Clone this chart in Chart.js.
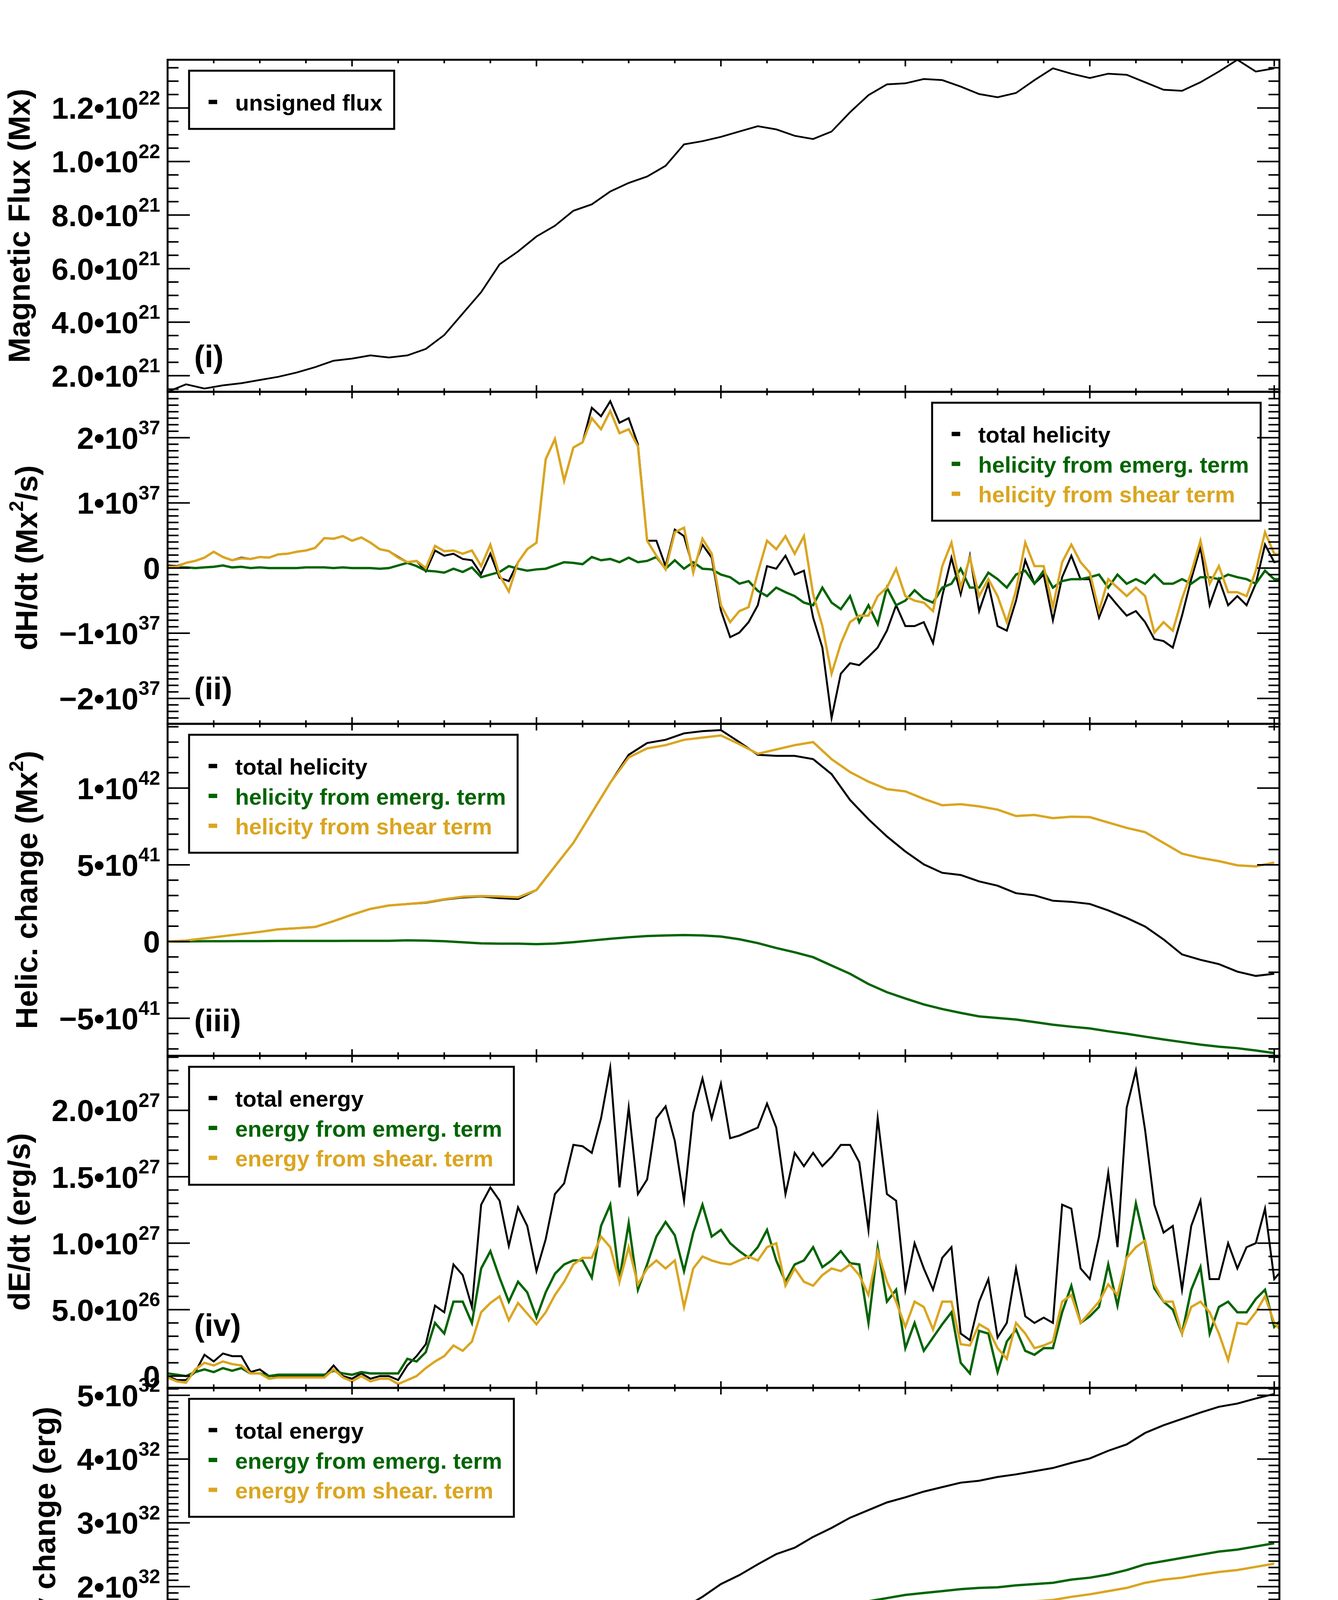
<!DOCTYPE html>
<html>
<head>
    <title>Magnetic flux, helicity and energy injection</title>
    <script src="https://cdn.jsdelivr.net/npm/chart.js"></script>
    <style>
        body { margin: 0; background: #ffffff; }
        #wrap { position: relative; width: 3425px; height: 4721px; background: #ffffff; }
        #wrap canvas { position: absolute; left: 0; }
    </style>
</head>
<body>
<div id="wrap">
    <canvas id="p1"></canvas>
    <canvas id="p2"></canvas>
    <canvas id="p3"></canvas>
    <canvas id="p4"></canvas>
    <canvas id="p5"></canvas>
</div>

<script>
// ---- time axis (days since 18-Oct-11 23:58:16) ----
const DAY_LABELS = ['19-Oct', '20-Oct', '21-Oct', '22-Oct', '23-Oct', '24-Oct', '25-Oct'];
const X_TITLE = 'Start Time (18-Oct-11 23:58:16)';
const T_COARSE = Array.from({length: 61}, (_, i) => i / 10);                 // 0.0 .. 6.0
const T_FINE = Array.from({length: 122}, (_, i) => Math.round(i * 5) / 100); // 0.00 .. 6.05

// ---- (i) unsigned flux, units of 1e21 Mx ----
const fluxUnsigned = [
    1.40, 1.68, 1.52, 1.64, 1.72, 1.84, 1.96, 2.12, 2.32, 2.56,
    2.64, 2.76, 2.68, 2.76, 3.00, 3.52, 4.32, 5.12, 6.16, 6.64,
    7.20, 7.60, 8.16, 8.40, 8.88, 9.20, 9.44, 9.84, 10.64, 10.76,
    10.92, 11.12, 11.32, 11.20, 10.96, 10.84, 11.12, 11.84, 12.48, 12.88,
    12.92, 13.08, 13.04, 12.80, 12.52, 12.40, 12.56, 13.04, 13.48, 13.28,
    13.12, 13.28, 13.24, 12.96, 12.68, 12.64, 12.96, 13.36, 13.80, 13.36,
    13.48
];
const fluxTicks = [2, 4, 6, 8, 10, 12];
const fluxTickLabels = ['2.0•10^{21}', '4.0•10^{21}', '6.0•10^{21}', '8.0•10^{21}', '1.0•10^{22}', '1.2•10^{22}'];

// ---- (ii) helicity injection rate, units of 1e37 Mx^2/s ----
const helTotalRate = [
    0.04, 0.03, 0.08, 0.11, 0.16, 0.25, 0.17, 0.12, 0.16, 0.14,
    0.17, 0.16, 0.21, 0.22, 0.25, 0.27, 0.31, 0.46, 0.45, 0.49,
    0.42, 0.47, 0.39, 0.29, 0.26, 0.17, 0.09, 0.11, -0.05, 0.27,
    0.19, 0.22, 0.14, 0.12, -0.09, 0.22, -0.15, -0.20, 0.09, 0.29,
    0.39, 1.67, 1.98, 1.34, 1.85, 1.93, 2.46, 2.33, 2.56, 2.23,
    2.30, 1.90, 0.42, 0.42, 0.03, 0.59, 0.49, -0.01, 0.36, 0.16,
    -0.65, -1.06, -0.99, -0.83, -0.57, 0.03, -0.01, 0.19, -0.10, -0.04,
    -0.76, -1.22, -2.30, -1.62, -1.46, -1.49, -1.36, -1.22, -0.96, -0.57,
    -0.89, -0.89, -0.83, -1.15, -0.43, 0.16, -0.40, 0.19, -0.66, -0.24,
    -0.89, -0.96, -0.50, 0.12, -0.24, -0.10, -0.80, -0.14, 0.19, -0.17,
    -0.17, -0.76, -0.40, -0.57, -0.73, -0.66, -0.83, -1.09, -1.12, -1.22,
    -0.73, -0.17, 0.32, -0.57, -0.17, -0.57, -0.43, -0.57, -0.24, 0.36,
    0.09, 0.12
];
const helEmergRate = [
    0.01, 0.01, 0.01, 0.00, 0.01, 0.02, 0.04, 0.01, 0.02, 0.00,
    0.01, 0.00, 0.00, 0.00, 0.00, 0.01, 0.01, 0.01, 0.00, 0.01,
    0.00, 0.00, 0.00, -0.01, 0.00, 0.04, 0.08, 0.03, -0.04, -0.05,
    -0.07, -0.01, -0.06, 0.01, -0.14, -0.10, -0.06, 0.03, -0.01, -0.04,
    -0.02, -0.01, 0.04, 0.09, 0.08, 0.06, 0.17, 0.12, 0.14, 0.09,
    0.16, 0.09, 0.11, 0.17, -0.01, 0.12, -0.01, 0.09, -0.01, -0.02,
    -0.10, -0.14, -0.24, -0.20, -0.35, -0.43, -0.30, -0.37, -0.43, -0.53,
    -0.57, -0.30, -0.53, -0.63, -0.43, -0.83, -0.57, -0.86, -0.30, -0.57,
    -0.50, -0.34, -0.47, -0.53, -0.30, -0.24, -0.01, -0.30, -0.30, -0.07,
    -0.17, -0.30, -0.10, -0.04, -0.24, -0.04, -0.30, -0.20, -0.17, -0.17,
    -0.14, -0.10, -0.30, -0.10, -0.24, -0.17, -0.24, -0.10, -0.24, -0.24,
    -0.17, -0.24, -0.14, -0.14, -0.17, -0.10, -0.14, -0.17, -0.24, -0.04,
    -0.17, -0.17
];
const helShearRate = [
    0.02, 0.02, 0.08, 0.11, 0.16, 0.25, 0.17, 0.12, 0.15, 0.14,
    0.17, 0.16, 0.21, 0.22, 0.25, 0.27, 0.31, 0.46, 0.45, 0.49,
    0.42, 0.47, 0.39, 0.29, 0.26, 0.16, 0.09, 0.11, 0.00, 0.34,
    0.26, 0.27, 0.22, 0.27, 0.03, 0.36, -0.11, -0.36, 0.09, 0.29,
    0.39, 1.67, 1.98, 1.34, 1.85, 1.93, 2.30, 2.13, 2.41, 2.07,
    2.13, 1.87, 0.42, 0.19, -0.02, 0.55, 0.62, -0.07, 0.45, 0.22,
    -0.57, -0.83, -0.66, -0.60, -0.07, 0.42, 0.29, 0.49, 0.22, 0.49,
    -0.40, -0.89, -1.62, -1.16, -0.83, -0.73, -0.73, -0.43, -0.30, -0.01,
    -0.43, -0.50, -0.53, -0.66, 0.03, 0.39, -0.30, 0.16, -0.43, -0.17,
    -0.43, -0.83, -0.34, 0.39, 0.03, 0.03, -0.60, 0.09, 0.36, 0.09,
    -0.07, -0.66, -0.17, -0.30, -0.43, -0.30, -0.43, -0.99, -0.83, -0.96,
    -0.47, -0.07, 0.42, -0.24, 0.03, -0.37, -0.37, -0.43, -0.04, 0.55,
    0.22, 0.20
];
const helRateTicks = [-2, -1, 0, 1, 2];
const helRateTickLabels = ['\u22122•10^{37}', '\u22121•10^{37}', '0', '1•10^{37}', '2•10^{37}'];

// ---- (iii) accumulated helicity, units of 1e41 Mx^2 ----
const helTotal = [
    0.00, 0.07, 0.21, 0.35, 0.49, 0.63, 0.80, 0.87, 0.95, 1.33,
    1.75, 2.13, 2.35, 2.45, 2.52, 2.73, 2.87, 2.94, 2.83, 2.77,
    3.36, 4.90, 6.43, 8.39, 10.35, 12.17, 12.94, 13.15, 13.57, 13.71,
    13.78, 13.00, 12.17, 12.10, 12.10, 11.89, 10.91, 9.23, 7.97, 6.85,
    5.87, 5.03, 4.48, 4.34, 3.92, 3.64, 3.15, 3.01, 2.66, 2.59,
    2.45, 2.03, 1.54, 0.98, 0.14, -0.84, -1.19, -1.47, -1.96, -2.24,
    -2.10
];
const helEmerg = [
    0.00, 0.01, 0.02, 0.02, 0.03, 0.03, 0.04, 0.04, 0.04, 0.04,
    0.05, 0.05, 0.05, 0.08, 0.06, 0.02, -0.05, -0.12, -0.14, -0.14,
    -0.17, -0.13, -0.04, 0.07, 0.18, 0.28, 0.36, 0.40, 0.42, 0.40,
    0.33, 0.15, -0.10, -0.42, -0.70, -1.02, -1.56, -2.10, -2.77, -3.30,
    -3.71, -4.10, -4.40, -4.65, -4.88, -4.98, -5.08, -5.25, -5.42, -5.55,
    -5.66, -5.85, -6.01, -6.20, -6.38, -6.55, -6.72, -6.85, -6.95, -7.10,
    -7.27
];
const helShear = [
    0.00, 0.07, 0.21, 0.35, 0.49, 0.63, 0.80, 0.87, 0.95, 1.33,
    1.75, 2.13, 2.35, 2.45, 2.55, 2.76, 2.92, 2.97, 2.94, 2.88,
    3.36, 4.90, 6.43, 8.39, 10.35, 12.00, 12.59, 12.80, 13.15, 13.29,
    13.43, 12.87, 12.24, 12.52, 12.80, 13.00, 11.89, 11.05, 10.42, 9.93,
    9.79, 9.30, 8.88, 8.95, 8.81, 8.60, 8.18, 8.25, 8.04, 8.14,
    8.11, 7.76, 7.41, 7.13, 6.43, 5.73, 5.45, 5.24, 4.97, 4.90,
    5.15
];
const helTicks = [-5, 0, 5, 10];
const helTickLabels = ['\u22125•10^{41}', '0', '5•10^{41}', '1•10^{42}'];

// ---- (iv) energy injection rate, units of 1e27 erg/s ----
const enTotalRate = [
    0.00, -0.03, -0.03, 0.03, 0.16, 0.11, 0.17, 0.15, 0.15, 0.03,
    0.05, 0.00, 0.00, 0.00, 0.00, 0.00, 0.00, 0.00, 0.08, 0.00,
    -0.02, 0.02, -0.02, 0.00, 0.00, -0.03, 0.08, 0.15, 0.24, 0.53,
    0.48, 0.84, 0.76, 0.52, 1.29, 1.42, 1.32, 0.98, 1.27, 1.13,
    0.79, 1.03, 1.37, 1.45, 1.74, 1.73, 1.68, 1.94, 2.32, 1.42,
    2.02, 1.37, 1.48, 1.94, 2.03, 1.77, 1.32, 1.98, 2.24, 1.94,
    2.20, 1.79, 1.81, 1.84, 1.87, 2.05, 1.87, 1.37, 1.68, 1.58,
    1.68, 1.58, 1.65, 1.74, 1.74, 1.61, 1.10, 1.94, 1.37, 1.32,
    0.65, 1.00, 0.81, 0.65, 0.89, 0.97, 0.32, 0.27, 0.56, 0.73,
    0.29, 0.40, 0.81, 0.45, 0.40, 0.44, 0.40, 1.29, 1.26, 0.81,
    0.73, 1.05, 1.53, 0.97, 2.02, 2.30, 1.85, 1.29, 1.08, 1.13,
    0.65, 1.13, 1.32, 0.73, 0.73, 1.00, 0.81, 0.97, 1.00, 1.26,
    0.73, 0.81
];
const enEmergRate = [
    0.02, 0.01, 0.00, 0.03, 0.05, 0.03, 0.06, 0.04, 0.06, 0.02,
    0.02, 0.00, 0.01, 0.01, 0.01, 0.01, 0.01, 0.01, 0.04, 0.02,
    0.01, 0.03, 0.02, 0.02, 0.02, 0.02, 0.13, 0.11, 0.18, 0.40,
    0.32, 0.56, 0.56, 0.40, 0.81, 0.94, 0.74, 0.56, 0.71, 0.63,
    0.44, 0.63, 0.77, 0.84, 0.87, 0.87, 0.74, 1.13, 1.29, 0.73,
    1.15, 0.65, 0.84, 1.05, 1.16, 1.06, 0.79, 1.08, 1.29, 1.05,
    1.10, 1.00, 0.94, 0.89, 0.97, 1.10, 0.87, 0.71, 0.84, 0.87,
    0.97, 0.82, 0.87, 0.94, 0.85, 0.84, 0.40, 0.97, 0.56, 0.65,
    0.21, 0.40, 0.19, 0.29, 0.39, 0.48, 0.10, 0.02, 0.34, 0.32,
    0.03, 0.26, 0.35, 0.19, 0.16, 0.21, 0.21, 0.48, 0.68, 0.40,
    0.45, 0.52, 0.84, 0.53, 0.90, 1.30, 1.00, 0.66, 0.56, 0.50,
    0.32, 0.65, 0.82, 0.32, 0.52, 0.56, 0.48, 0.48, 0.58, 0.65,
    0.37, 0.44
];
const enShearRate = [
    -0.01, -0.04, -0.05, 0.05, 0.10, 0.08, 0.11, 0.09, 0.08, 0.02,
    0.02, -0.02, -0.01, -0.01, -0.01, -0.01, -0.01, -0.01, 0.05, -0.01,
    -0.04, 0.00, -0.04, -0.02, -0.02, -0.06, -0.03, 0.00, 0.06, 0.11,
    0.15, 0.23, 0.19, 0.26, 0.48, 0.55, 0.60, 0.42, 0.55, 0.47,
    0.39, 0.48, 0.61, 0.71, 0.84, 0.89, 0.89, 1.05, 0.97, 0.71,
    0.97, 0.69, 0.81, 0.87, 0.81, 0.87, 0.52, 0.81, 0.90, 0.87,
    0.85, 0.84, 0.87, 0.90, 0.87, 0.97, 1.00, 0.68, 0.81, 0.71,
    0.68, 0.76, 0.81, 0.79, 0.84, 0.76, 0.61, 0.94, 0.71, 0.56,
    0.37, 0.56, 0.52, 0.35, 0.56, 0.56, 0.24, 0.23, 0.39, 0.35,
    0.21, 0.13, 0.40, 0.32, 0.21, 0.23, 0.26, 0.56, 0.61, 0.40,
    0.48, 0.56, 0.69, 0.61, 0.89, 0.97, 1.02, 0.69, 0.56, 0.56,
    0.32, 0.52, 0.56, 0.48, 0.32, 0.12, 0.40, 0.39, 0.48, 0.60,
    0.40, 0.32
];
const enRateTicks = [0, 0.5, 1.0, 1.5, 2.0];
const enRateTickLabels = ['0', '5.0•10^{26}', '1.0•10^{27}', '1.5•10^{27}', '2.0•10^{27}'];

// ---- (v) accumulated energy, units of 1e32 erg ----
const enTotal = [
    0.00, 0.005, 0.01, 0.02, 0.03, 0.03, 0.03, 0.03, 0.025, 0.025,
    0.03, 0.03, 0.03, 0.035, 0.05, 0.09, 0.14, 0.23, 0.36, 0.48,
    0.56, 0.67, 0.80, 0.95, 1.12, 1.27, 1.35, 1.54, 1.67, 1.84,
    2.04, 2.18, 2.35, 2.51, 2.61, 2.78, 2.92, 3.08, 3.20, 3.32,
    3.40, 3.49, 3.56, 3.63, 3.66, 3.72, 3.76, 3.81, 3.86, 3.94,
    4.01, 4.13, 4.23, 4.41, 4.53, 4.63, 4.73, 4.82, 4.87, 4.95,
    5.02
];
const enEmerg = [
    0.00, 0.01, 0.015, 0.02, 0.02, 0.025, 0.03, 0.03, 0.03, 0.03,
    0.03, 0.03, 0.03, 0.03, 0.04, 0.08, 0.13, 0.18, 0.26, 0.32,
    0.36, 0.43, 0.50, 0.56, 0.65, 0.72, 0.78, 0.88, 0.95, 1.05,
    1.17, 1.24, 1.32, 1.40, 1.47, 1.56, 1.64, 1.72, 1.77, 1.82,
    1.87, 1.90, 1.93, 1.96, 1.98, 1.99, 2.02, 2.04, 2.06, 2.11,
    2.14, 2.19, 2.26, 2.35, 2.40, 2.45, 2.50, 2.55, 2.58, 2.63,
    2.68
];
const enShear = [
    0.00, 0.005, 0.01, 0.01, 0.01, 0.01, 0.01, 0.01, 0.01, 0.01,
    0.01, 0.01, 0.01, 0.01, 0.01, 0.02, 0.03, 0.05, 0.11, 0.16,
    0.20, 0.25, 0.33, 0.41, 0.50, 0.56, 0.61, 0.68, 0.75, 0.82,
    0.90, 0.98, 1.07, 1.14, 1.20, 1.27, 1.34, 1.40, 1.47, 1.52,
    1.56, 1.61, 1.64, 1.67, 1.70, 1.72, 1.75, 1.77, 1.79, 1.84,
    1.88, 1.93, 1.98, 2.06, 2.11, 2.14, 2.19, 2.23, 2.26, 2.31,
    2.36
];
const enTicks = [0, 1, 2, 3, 4, 5];
const enTickLabels = ['0', '1•10^{32}', '2•10^{32}', '3•10^{32}', '4•10^{32}', '5•10^{32}'];

// ---- page geometry ----
const PAGE_W = 3425;
const PLOT_LEFT = 429;
const PLOT_RIGHT = 3275;
const PANEL_TOP = 153;
const PANEL_H = 850;
const X_MAX = 6.028;
const FONT = '"Liberation Sans", Arial, Helvetica, sans-serif';
const BLACK = '#000000';
const GREEN = '#006400';
const GOLD = '#DAA520';

function font(size) {
    return 'bold ' + size + 'px ' + FONT;
}

// split 'a^{b}c' into normal / superscript runs
function richParts(str) {
    const parts = [];
    const re = /\^\{([^}]*)\}/g;
    let last = 0, m;
    while ((m = re.exec(str))) {
        if (m.index > last) parts.push({t: str.slice(last, m.index), sup: false});
        parts.push({t: m[1], sup: true});
        last = re.lastIndex;
    }
    if (last < str.length) parts.push({t: str.slice(last), sup: false});
    return parts;
}

function drawRich(ctx, str, x, y, size, align) {
    const parts = richParts(str);
    let w = 0;
    parts.forEach(p => {
        ctx.font = font(p.sup ? Math.round(size * 0.64) : size);
        p.w = ctx.measureText(p.t).width;
        w += p.w;
    });
    let cx = align === 'right' ? x - w : (align === 'center' ? x - w / 2 : x);
    const left = cx;
    ctx.textAlign = 'left';
    ctx.textBaseline = 'alphabetic';
    parts.forEach(p => {
        ctx.font = font(p.sup ? Math.round(size * 0.64) : size);
        ctx.fillText(p.t, cx, p.sup ? y - size * 0.47 : y);
        cx += p.w;
    });
    return left;
}

// IDL-looking frame: inward ticks on all four sides, labels, legend box
const idlFrame = {
    id: 'idlFrame',
    afterDatasetsDraw(chart, args, o) {
        const {ctx, chartArea: a, scales: {x, y}} = chart;
        ctx.save();
        ctx.fillStyle = BLACK;
        ctx.strokeStyle = BLACK;
        ctx.lineCap = 'butt';

        // x ticks every 6 hours
        ctx.lineWidth = 4;
        ctx.beginPath();
        for (let i = 0; i <= (DAY_LABELS.length - 1) * 4; i++) {
            const px = x.getPixelForValue(i / 4);
            const len = i % 4 === 0 ? 17 : 9;
            ctx.moveTo(px, a.bottom); ctx.lineTo(px, a.bottom - len);
            ctx.moveTo(px, a.top); ctx.lineTo(px, a.top + len);
        }
        // y ticks
        const k0 = Math.ceil(y.min / o.yMinor - 1e-6);
        const k1 = Math.floor(y.max / o.yMinor + 1e-6);
        for (let k = k0; k <= k1; k++) {
            const v = k * o.yMinor;
            const r = v / o.yMajor;
            const len = Math.abs(r - Math.round(r)) < 1e-6 ? 57 : 28;
            const py = y.getPixelForValue(v);
            ctx.moveTo(a.left, py); ctx.lineTo(a.left + len, py);
            ctx.moveTo(a.right, py); ctx.lineTo(a.right - len, py);
        }
        ctx.stroke();

        // frame
        ctx.lineWidth = 5;
        ctx.strokeRect(a.left, a.top, a.right - a.left, a.bottom - a.top);

        // y tick labels
        let minLeft = a.left;
        o.yTicks.forEach((v, i) => {
            const py = y.getPixelForValue(v);
            const l = drawRich(ctx, o.yLabels[i], a.left - 19, py + 28, 78, 'right');
            minLeft = Math.min(minLeft, l);
        });

        // rotated axis title
        ctx.save();
        ctx.translate(minLeft - 56, (a.top + a.bottom) / 2);
        ctx.rotate(-Math.PI / 2);
        drawRich(ctx, o.yTitle, 0, 0, 78, 'center');
        ctx.restore();

        // panel tag
        ctx.font = font(80);
        ctx.textAlign = 'left';
        ctx.textBaseline = 'alphabetic';
        ctx.fillText(o.tag, a.left + 68, a.bottom - o.tagLift);

        // legend box
        const lg = o.legend;
        ctx.font = font(58);
        const tw = Math.max(...lg.items.map(it => ctx.measureText(it.text).width));
        const boxW = 50 + 22 + 46 + tw + 30;
        const boxL = lg.side === 'right' ? a.right - 48 - boxW : a.left + 55;
        const boxT = a.top + 28;
        const base0 = boxT + 102;
        const step = 76.5;
        const boxB = base0 + step * (lg.items.length - 1) + 47;
        lg.items.forEach((it, i) => {
            const b = base0 + i * step;
            ctx.fillStyle = it.color;
            ctx.fillRect(boxL + 50, b - 27.5, 22, 11);
            ctx.fillText(it.text, boxL + 118, b);
        });
        ctx.lineWidth = 5;
        ctx.strokeStyle = BLACK;
        ctx.strokeRect(boxL, boxT, boxW, boxB - boxT);

        // date labels and time title under the last panel
        if (o.xLabels) {
            ctx.fillStyle = BLACK;
            DAY_LABELS.forEach((lab, i) => {
                drawRich(ctx, lab, x.getPixelForValue(i), a.bottom + 103, 80, 'center');
            });
            drawRich(ctx, X_TITLE, (a.left + a.right) / 2, a.bottom + 190, 80, 'center');
        }
        ctx.restore();
    }
};

function series(label, t, v, color, width, order) {
    return {
        label: label,
        data: t.map((tt, j) => ({x: tt, y: v[j]})),
        borderColor: color,
        borderWidth: width,
        pointRadius: 0,
        tension: 0,
        fill: false,
        order: order
    };
}

function makePanel(id, index, cfg) {
    const canvas = document.getElementById(id);
    const last = index === 4;
    const padTop = 130;
    const padBottom = last ? 260 : 130;
    const h = PANEL_H + padTop + padBottom;
    canvas.width = PAGE_W;
    canvas.height = h;
    canvas.style.width = PAGE_W + 'px';
    canvas.style.height = h + 'px';
    canvas.style.top = (PANEL_TOP + index * PANEL_H - padTop) + 'px';

    new Chart(canvas, {
        type: 'line',
        data: {datasets: cfg.datasets},
        options: {
            responsive: false,
            animation: false,
            devicePixelRatio: 1,
            layout: {padding: {left: PLOT_LEFT, right: PAGE_W - PLOT_RIGHT, top: padTop, bottom: padBottom}},
            scales: {
                x: {type: 'linear', display: false, min: 0, max: X_MAX},
                y: {type: 'linear', display: false, min: cfg.yMin, max: cfg.yMax}
            },
            plugins: {
                legend: {display: false},
                tooltip: {enabled: false},
                idlFrame: {
                    yTicks: cfg.yTicks, yLabels: cfg.yLabels,
                    yMajor: cfg.yMajor, yMinor: cfg.yMinor,
                    yTitle: cfg.yTitle, tag: cfg.tag, tagLift: cfg.tagLift,
                    legend: cfg.legend, xLabels: last
                }
            }
        },
        plugins: [idlFrame]
    });
}

makePanel('p1', 0, {
    datasets: [series('unsigned flux', T_COARSE, fluxUnsigned, BLACK, 4.5, 1)],
    yMin: 1.4, yMax: 13.8, yMajor: 2, yMinor: 0.5,
    yTicks: fluxTicks, yLabels: fluxTickLabels,
    yTitle: 'Magnetic Flux (Mx)', tag: '(i)', tagLift: 63,
    legend: {side: 'left', items: [{text: 'unsigned flux', color: BLACK}]}
});

makePanel('p2', 1, {
    datasets: [
        series('total helicity', T_FINE, helTotalRate, BLACK, 5, 3),
        series('helicity from emerg. term', T_FINE, helEmergRate, GREEN, 6, 2),
        series('helicity from shear term', T_FINE, helShearRate, GOLD, 6, 1)
    ],
    yMin: -2.39, yMax: 2.705, yMajor: 1, yMinor: 0.1,
    yTicks: helRateTicks, yLabels: helRateTickLabels,
    yTitle: 'dH/dt (Mx^{2}/s)', tag: '(ii)', tagLift: 63,
    legend: {side: 'right', items: [
        {text: 'total helicity', color: BLACK},
        {text: 'helicity from emerg. term', color: GREEN},
        {text: 'helicity from shear term', color: GOLD}
    ]}
});

makePanel('p3', 2, {
    datasets: [
        series('total helicity', T_COARSE, helTotal, BLACK, 5, 3),
        series('helicity from emerg. term', T_COARSE, helEmerg, GREEN, 6, 2),
        series('helicity from shear term', T_COARSE, helShear, GOLD, 6, 1)
    ],
    yMin: -7.45, yMax: 14.19, yMajor: 5, yMinor: 1,
    yTicks: helTicks, yLabels: helTickLabels,
    yTitle: 'Helic. change (Mx^{2})', tag: '(iii)', tagLift: 63,
    legend: {side: 'left', items: [
        {text: 'total helicity', color: BLACK},
        {text: 'helicity from emerg. term', color: GREEN},
        {text: 'helicity from shear term', color: GOLD}
    ]}
});

makePanel('p4', 3, {
    datasets: [
        series('total energy', T_FINE, enTotalRate, BLACK, 5, 3),
        series('energy from emerg. term', T_FINE, enEmergRate, GREEN, 6, 2),
        series('energy from shear. term', T_FINE, enShearRate, GOLD, 6, 1)
    ],
    yMin: -0.089, yMax: 2.41, yMajor: 0.5, yMinor: 0.1,
    yTicks: enRateTicks, yLabels: enRateTickLabels,
    yTitle: 'dE/dt (erg/s)', tag: '(iv)', tagLift: 133,
    legend: {side: 'left', items: [
        {text: 'total energy', color: BLACK},
        {text: 'energy from emerg. term', color: GREEN},
        {text: 'energy from shear. term', color: GOLD}
    ]}
});

makePanel('p5', 4, {
    datasets: [
        series('total energy', T_COARSE, enTotal, BLACK, 5, 3),
        series('energy from emerg. term', T_COARSE, enEmerg, GREEN, 6, 1),
        series('energy from shear. term', T_COARSE, enShear, GOLD, 6, 2)
    ],
    yMin: -0.09, yMax: 5.116, yMajor: 1, yMinor: 0.1,
    yTicks: enTicks, yLabels: enTickLabels,
    yTitle: 'Energy change (erg)', tag: '(v)', tagLift: 52,
    legend: {side: 'left', items: [
        {text: 'total energy', color: BLACK},
        {text: 'energy from emerg. term', color: GREEN},
        {text: 'energy from shear. term', color: GOLD}
    ]}
});
</script>
</body>
</html>
